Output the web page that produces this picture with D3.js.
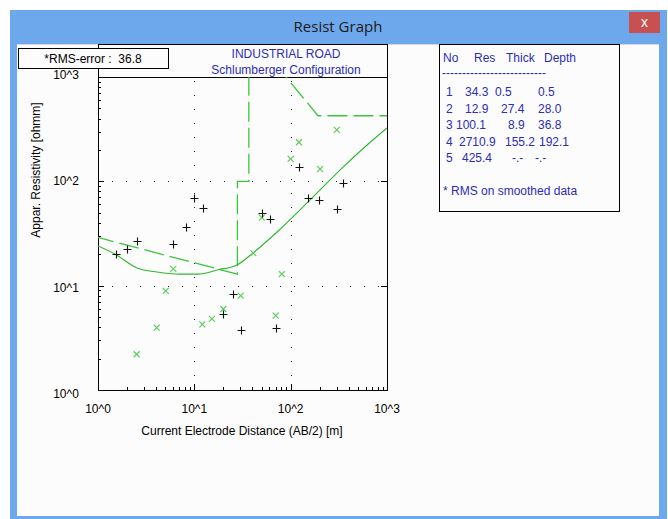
<!DOCTYPE html>
<meta charset="utf-8">
<style>
  body { margin: 0; background: #fff; }
  text { font-family: "Liberation Sans", Arial, sans-serif; }
</style>
<svg width="668" height="519"></svg>
<script src="https://d3js.org/d3.v7.min.js"></script>
<script>
// field data (black crosses)
var obsX = [1.54, 2.0, 2.54, 6.0, 8.2, 9.9, 12.3, 19.9, 25.2, 30.5, 50.5, 61.1, 70.5, 122, 152, 197, 303, 350]
var obsY = [20.1, 22.5, 26.8, 25.1, 36.5, 69.3, 55.6, 5.4, 8.3, 3.76, 49.8, 43.6, 3.93, 137, 69.3, 66.3, 54.5, 96.5]

// smoothed data (green x)
var smX = [2.52, 4.07, 5.05, 6.05, 12.1, 15.2, 20.0, 30.3, 41.0, 50.1, 70.0, 80.9, 100, 122, 202, 301]
var smY = [2.2, 3.96, 8.9, 14.5, 4.26, 4.8, 5.98, 8.02, 20.5, 44.9, 5.16, 12.9, 164, 237, 131, 311]

// calculated curve
var fitX = [1.0, 1.5, 2.54, 4.1, 7.11, 10.9, 17.6, 27.8, 40.7, 72.3, 148, 202, 350, 621, 1000]
var fitY = [24.0, 20.1, 14.8, 13.5, 12.9, 12.9, 14.2, 15.8, 20.6, 32.7, 62.1, 82.7, 137, 223, 325]

// layer model
var layerNo = ['1', '2', '3', '4', '5']
var layerRes = [34.3, 12.9, 100.1, 2710.9, 425.4]
var layerThick = ['0.5', '27.4', '8.9', '155.2', '-.-']
var layerDepth = [0.5, 28.0, 36.8, 192.1]

var decades = [1, 10, 100, 1000]
var tickLabels = ['10^0', '10^1', '10^2', '10^3']

var svg = d3.select('svg')

// window frame
svg.append('rect').attr('x', 10).attr('y', 10).attr('width', 657).attr('height', 509).attr('fill', '#6ea8ec')
svg.append('rect').attr('x', 17).attr('y', 44).attr('width', 642).attr('height', 472).attr('fill', '#fcfcfc')
svg.append('line').attr('x1', 17).attr('x2', 659).attr('y1', 44.5).attr('y2', 44.5).attr('stroke', '#d8d8d8')
svg.append('text').attr('x', 338).attr('y', 32).attr('text-anchor', 'middle')
  .attr('font-size', 15).attr('fill', '#1a1a1a').style('font-family', '"Open Sans", sans-serif').text('Resist Graph')
svg.append('rect').attr('x', 629).attr('y', 12).attr('width', 31).attr('height', 21).attr('fill', '#c75050')
svg.append('text').attr('x', 644.5).attr('y', 27).attr('text-anchor', 'middle')
  .attr('font-size', 14).attr('fill', '#fff').text('x')

var pLeft = 98, pRight = 387, pTop = 77, pBottom = 390

var x = d3.scaleLog().domain([1, 1000]).range([pLeft, pRight])
var y = d3.scaleLog().domain([1, 1000]).range([pBottom, pTop])
// label rows sit on their own spacing, slightly wider than the plot box
var yLab = d3.scaleLog().domain([1, 1000]).range([398, 79])

// title box + plot box
svg.append('rect').attr('x', pLeft + 0.5).attr('y', 44.5).attr('width', pRight - pLeft).attr('height', pTop - 44)
  .attr('fill', 'none').attr('stroke', '#000')
svg.append('rect').attr('x', pLeft + 0.5).attr('y', pTop + 0.5).attr('width', pRight - pLeft).attr('height', pBottom - pTop)
  .attr('fill', 'none').attr('stroke', '#000')

var blue = '#2c2cb4'
svg.append('text').attr('x', 286).attr('y', 58).attr('text-anchor', 'middle').attr('font-size', 12)
  .attr('fill', blue).text('INDUSTRIAL ROAD')
svg.append('text').attr('x', 286).attr('y', 74).attr('text-anchor', 'middle').attr('font-size', 12)
  .attr('fill', blue).text('Schlumberger Configuration')

// RMS box
svg.append('rect').attr('x', 18.5).attr('y', 48.5).attr('width', 150).attr('height', 20)
  .attr('fill', '#fcfcfc').attr('stroke', '#000')
svg.append('text').attr('x', 93).attr('y', 63).attr('text-anchor', 'middle').attr('font-size', 12)
  .attr('xml:space', 'preserve').text('*RMS-error :  36.8')

// grid
var grid = svg.append('g').attr('stroke', '#222').attr('stroke-dasharray', '1,13')
;[10, 100].forEach(function (v) {
  grid.append('line').attr('x1', Math.round(x(v)) + 0.5).attr('x2', Math.round(x(v)) + 0.5)
    .attr('y1', pBottom).attr('y2', pTop)
  grid.append('line').attr('y1', Math.round(y(v)) + 0.5).attr('y2', Math.round(y(v)) + 0.5)
    .attr('x1', pLeft).attr('x2', pRight)
})

// ticks
var minors = []
;[1, 10, 100].forEach(function (d) {
  for (var k = 2; k < 10; k++) minors.push(d * k)
})
var ticks = svg.append('g').attr('stroke', '#000')
minors.forEach(function (v) {
  ticks.append('line').attr('x1', pLeft).attr('x2', pLeft + 3)
    .attr('y1', Math.round(y(v)) + 0.5).attr('y2', Math.round(y(v)) + 0.5)
  ticks.append('line').attr('y1', pBottom).attr('y2', pBottom - 3)
    .attr('x1', Math.round(x(v)) + 0.5).attr('x2', Math.round(x(v)) + 0.5)
})
;[10, 100].forEach(function (v) {
  var yy = Math.round(y(v)) + 0.5, xx = Math.round(x(v)) + 0.5
  ticks.append('line').attr('x1', pLeft).attr('x2', pLeft + 6).attr('y1', yy).attr('y2', yy)
  ticks.append('line').attr('x1', pRight).attr('x2', pRight - 6).attr('y1', yy).attr('y2', yy)
  ticks.append('line').attr('y1', pBottom).attr('y2', pBottom - 6).attr('x1', xx).attr('x2', xx)
})

// tick labels
decades.forEach(function (v, i) {
  svg.append('text').attr('x', 66).attr('y', yLab(v)).attr('text-anchor', 'middle')
    .attr('font-size', 12).text(tickLabels[i])
  svg.append('text').attr('x', x(v)).attr('y', 413).attr('text-anchor', 'middle')
    .attr('font-size', 12).text(tickLabels[i])
})

svg.append('text').attr('transform', 'translate(40,170) rotate(-90)').attr('text-anchor', 'middle')
  .attr('font-size', 12).text('Appar. Resistivity [ohmm]')
svg.append('text').attr('x', 242).attr('y', 435).attr('text-anchor', 'middle')
  .attr('font-size', 12).text('Current Electrode Distance (AB/2) [m]')

// plot content
svg.append('clipPath').attr('id', 'clip').append('rect')
  .attr('x', pLeft).attr('y', pTop).attr('width', pRight - pLeft).attr('height', pBottom - pTop)
var plot = svg.append('g').attr('clip-path', 'url(#clip)')

// layer model dashed line: (d1,r1)->(d2,r2)->(d2,r3)->(d3,r3)->(d3,r4)->(d4,r5)->(end,r5)
var model = [
  [layerDepth[0], layerRes[0]],
  [layerDepth[1], layerRes[1]],
  [layerDepth[1], layerRes[2]],
  [layerDepth[2], layerRes[2]],
  [layerDepth[2], layerRes[3]],
  [layerDepth[3], layerRes[4]],
  [1000, layerRes[4]]
]
var line = d3.line().x(function (p) { return x(p[0]) }).y(function (p) { return y(p[1]) })
plot.append('path').attr('d', line(model)).attr('fill', 'none')
  .attr('stroke', '#3cc43c').attr('stroke-width', 1.3).attr('stroke-dasharray', '20,6')

var smooth = d3.line().curve(d3.curveMonotoneX).x(function (p) { return x(p[0]) }).y(function (p) { return y(p[1]) })
plot.append('path').attr('d', smooth(fitX.map(function (v, i) { return [v, fitY[i]] })))
  .attr('fill', 'none').attr('stroke', '#2cb82c').attr('stroke-width', 1.1)

// smoothed markers
smX.forEach(function (v, i) {
  var cx = x(v), cy = y(smY[i])
  plot.append('path').attr('d', 'M' + (cx - 3) + ',' + (cy - 3) + 'L' + (cx + 3) + ',' + (cy + 3) +
    'M' + (cx - 3) + ',' + (cy + 3) + 'L' + (cx + 3) + ',' + (cy - 3))
    .attr('stroke', '#5ccc5c').attr('stroke-width', 1.2)
})
// field markers
obsX.forEach(function (v, i) {
  var cx = Math.round(x(v)) + 0.5, cy = Math.round(y(obsY[i])) + 0.5
  plot.append('path').attr('d', 'M' + (cx - 4) + ',' + cy + 'H' + (cx + 4) + 'M' + cx + ',' + (cy - 4) + 'V' + (cy + 4))
    .attr('stroke', '#111').attr('stroke-width', 1.1)
})

// layer table
svg.append('rect').attr('x', 439.5).attr('y', 44.5).attr('width', 180).attr('height', 167)
  .attr('fill', '#fcfcfc').attr('stroke', '#000')
var tab = svg.append('g').attr('fill', blue).attr('font-size', 12)
var headX = [443, 474, 506, 544]
;['No', 'Res', 'Thick', 'Depth'].forEach(function (h, i) {
  tab.append('text').attr('x', headX[i]).attr('y', 62).text(h)
})
tab.append('text').attr('x', 442).attr('y', 77).text('--------------------------')
var resX = [465, 465, 456, 459, 462]
var thickX = [495, 501, 508, 505, 512]
var depthX = [538, 538, 538, 539, 535]
layerNo.forEach(function (n, i) {
  var ty = 96 + i * 16.5
  tab.append('text').attr('x', 446).attr('y', ty).text(n)
  tab.append('text').attr('x', resX[i]).attr('y', ty).text(layerRes[i].toFixed(1))
  tab.append('text').attr('x', thickX[i]).attr('y', ty).text(layerThick[i])
  tab.append('text').attr('x', depthX[i]).attr('y', ty)
    .text(i < layerDepth.length ? layerDepth[i].toFixed(1) : '-.-')
})
tab.append('text').attr('x', 443).attr('y', 195).text('* RMS on smoothed data')
</script>
